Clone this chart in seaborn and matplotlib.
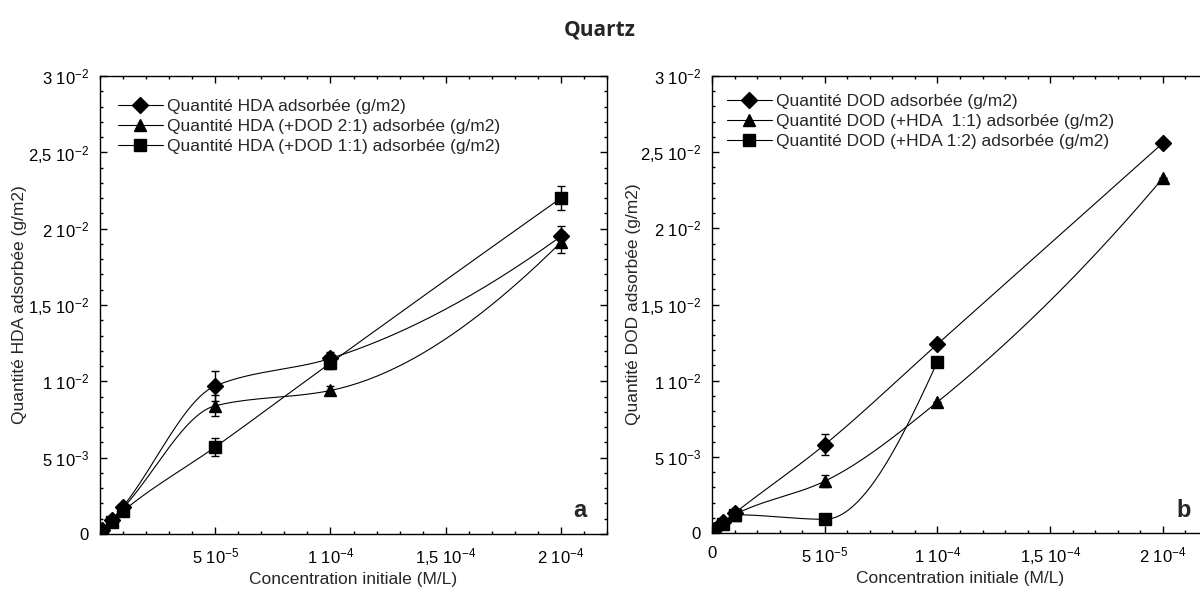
import numpy as np
import pandas as pd
import seaborn as sns
import matplotlib
matplotlib.use("Agg")
import matplotlib.pyplot as plt
from matplotlib.lines import Line2D
from matplotlib.ticker import MultipleLocator

# ── Data ────────────────────────────────────────────────────────────────────
conc = [1e-6, 5e-6, 1e-5, 5e-5, 1e-4, 2e-4]

# panel a : HDA
hda_alone = [0.00025, 0.0009, 0.0018, 0.0097, 0.0115, 0.0195]
hda_alone_err = [0, 0, 0, 0.0010, 0.0004, 0.0007]
hda_dod_21 = [0.0002, 0.0009, 0.0017, 0.0084, 0.0094, 0.0191]
hda_dod_21_err = [0, 0, 0, 0.0007, 0.0003, 0.0007]
hda_dod_11 = [0.0002, 0.0008, 0.0015, 0.0057, 0.0112, 0.0220]
hda_dod_11_err = [0, 0, 0, 0.0006, 0.0004, 0.0008]

# panel b : DOD
dod_alone = [0.0002, 0.0007, 0.0013, 0.0058, 0.0124, 0.0256]
dod_alone_err = [0, 0, 0, 0.0007, 0.0002, 0]
dod_hda_11 = [0.0002, 0.0007, 0.0012, 0.0034, 0.0086, 0.0233]
dod_hda_11_err = [0, 0, 0, 0.0004, 0, 0]
conc_dod_hda_12 = [1e-6, 5e-6, 1e-5, 5e-5, 1e-4]
dod_hda_12 = [0.0002, 0.0006, 0.0012, 0.0009, 0.01125]
dod_hda_12_err = [0, 0, 0, 0, 0]

labels_a = ["Quantité HDA adsorbée (g/m2)",
            "Quantité HDA (+DOD 2:1) adsorbée (g/m2)",
            "Quantité HDA (+DOD 1:1) adsorbée (g/m2)"]
labels_b = ["Quantité DOD adsorbée (g/m2)",
            "Quantité DOD (+HDA  1:1) adsorbée (g/m2)",
            "Quantité DOD (+HDA 1:2) adsorbée (g/m2)"]

yticks = [0, 0.005, 0.01, 0.015, 0.02, 0.025, 0.03]
ytick_labels = ["0", r"5 10$^{-3}$", r"1 10$^{-2}$", r"1,5 10$^{-2}$",
                r"2 10$^{-2}$", r"2,5 10$^{-2}$", r"3 10$^{-2}$"]
xticks_a = [5e-5, 1e-4, 1.5e-4, 2e-4]
xtick_labels_a = [r"5 10$^{-5}$", r"1 10$^{-4}$", r"1,5 10$^{-4}$", r"2 10$^{-4}$"]
xticks_b = [0, 5e-5, 1e-4, 1.5e-4, 2e-4]
xtick_labels_b = ["0"] + xtick_labels_a

MARKERS = ["D", "^", "s"]


# ── Style ───────────────────────────────────────────────────────────────────
sns.set_style("ticks")
plt.rcParams["font.family"] = ["Liberation Sans", "DejaVu Sans"]
plt.rcParams["mathtext.fontset"] = "custom"
plt.rcParams["mathtext.rm"] = "Liberation Sans"
plt.rcParams["mathtext.it"] = "Liberation Sans"
plt.rcParams["mathtext.bf"] = "Liberation Sans:bold"
plt.rcParams["mathtext.default"] = "regular"
plt.rcParams["axes.edgecolor"] = "black"
plt.rcParams["axes.linewidth"] = 1.0
FS = 12
FS_TEXT = 12.5


def smooth_curve(x, y, n=50):
    """Monotone cubic (PCHIP) path through the measured points, for drawing."""
    x = np.asarray(x, float)
    y = np.asarray(y, float)
    h = np.diff(x)
    d = np.diff(y) / h
    m = np.zeros_like(y)
    for k in range(1, len(x) - 1):
        if d[k - 1] * d[k] > 0:
            w1 = 2 * h[k] + h[k - 1]
            w2 = h[k] + 2 * h[k - 1]
            m[k] = (w1 + w2) / (w1 / d[k - 1] + w2 / d[k])

    def end(h0, h1, d0, d1):
        s = ((2 * h0 + h1) * d0 - h0 * d1) / (h0 + h1)
        if np.sign(s) != np.sign(d0):
            s = 0.0
        elif np.sign(d0) != np.sign(d1) and abs(s) > abs(3 * d0):
            s = 3 * d0
        return s

    m[0] = end(h[0], h[1], d[0], d[1])
    m[-1] = end(h[-1], h[-2], d[-1], d[-2])
    xs, ys = [], []
    t = np.linspace(0, 1, n)
    for k in range(len(h)):
        h00 = 2 * t**3 - 3 * t**2 + 1
        h10 = t**3 - 2 * t**2 + t
        h01 = -2 * t**3 + 3 * t**2
        h11 = t**3 - t**2
        ys.append(h00 * y[k] + h10 * h[k] * m[k] + h01 * y[k + 1] + h11 * h[k] * m[k + 1])
        xs.append(x[k] + t * h[k])
    return np.concatenate(xs), np.concatenate(ys)


def draw_panel(ax, series, labels, xticks, xtick_labels, ylabel, letter, leg_anchor):
    for (x, y, err), marker in zip(series, MARKERS):
        cx, cy = smooth_curve(x, y)
        curve = pd.DataFrame({"x": cx, "y": cy})
        sns.lineplot(data=curve, x="x", y="y", ax=ax, color="black",
                     linewidth=0.8, sort=False, estimator=None, legend=False)
        ax.errorbar(x, y, yerr=err, fmt=marker, color="black", ms=8,
                    elinewidth=1.0, capsize=3, capthick=1.0, zorder=3)

    ax.set_xlim(0, 2.2e-4)
    ax.set_ylim(0, 0.03)
    ax.set_xticks(xticks, xtick_labels)
    ax.set_yticks(yticks, ytick_labels)
    ax.xaxis.set_minor_locator(MultipleLocator(1e-5))
    ax.yaxis.set_minor_locator(MultipleLocator(1e-3))
    ax.tick_params(which="both", direction="in", top=True, right=True,
                   colors="black", labelsize=FS)
    ax.tick_params(which="major", length=5, width=1.0)
    ax.tick_params(which="minor", length=2.5, width=1.0)
    ax.tick_params(axis="x", pad=9)
    ax.tick_params(axis="y", pad=8)

    ax.set_xlabel("Concentration initiale (M/L)", fontsize=FS_TEXT)
    ax.set_ylabel(ylabel, fontsize=FS_TEXT)
    ax.xaxis.set_label_coords(0.5, -0.083)
    ax.yaxis.set_label_coords(-0.144, 0.5)

    handles = [Line2D([], [], color="black", lw=0.8, marker=m, ms=8)
               for m in MARKERS]
    ax.legend(handles, labels, loc="upper left", bbox_to_anchor=leg_anchor,
              frameon=False, fontsize=FS_TEXT, handlelength=2.6, handletextpad=0.25,
              labelspacing=0.28, borderpad=0, borderaxespad=0)

    ax.text(letter[1], letter[2], letter[0], transform=ax.transAxes,
            ha="right", va="baseline", fontsize=17, fontweight="bold")


fig = plt.figure(figsize=(12, 5.9), dpi=100)
fig.patch.set_facecolor("white")

ax_a = fig.add_axes([100 / 1200, 56 / 590, 507 / 1200, 458 / 590])
ax_b = fig.add_axes([712 / 1200, 57 / 590, 496 / 1200, 457 / 590])

draw_panel(ax_a,
           [(conc, hda_alone, hda_alone_err),
            (conc, hda_dod_21, hda_dod_21_err),
            (conc, hda_dod_11, hda_dod_11_err)],
           labels_a, xticks_a, xtick_labels_a,
           "Quantité HDA adsorbée (g/m2)", ("a", 0.9586, 0.037), (0.035, 0.95))

draw_panel(ax_b,
           [(conc, dod_alone, dod_alone_err),
            (conc, dod_hda_11, dod_hda_11_err),
            (conc_dod_hda_12, dod_hda_12, dod_hda_12_err)],
           labels_b, xticks_b, xtick_labels_b,
           "Quantité DOD adsorbée (g/m2)", ("b", 0.9657, 0.036), (0.03, 0.96))

fig.text(0.5, 1 - 30 / 590, "Quartz", ha="center", va="center",
         fontsize=15, fontweight="bold", family=["Open Sans", "DejaVu Sans"])

fig.savefig("out.png", dpi=100, facecolor="white")
plt.close(fig)
